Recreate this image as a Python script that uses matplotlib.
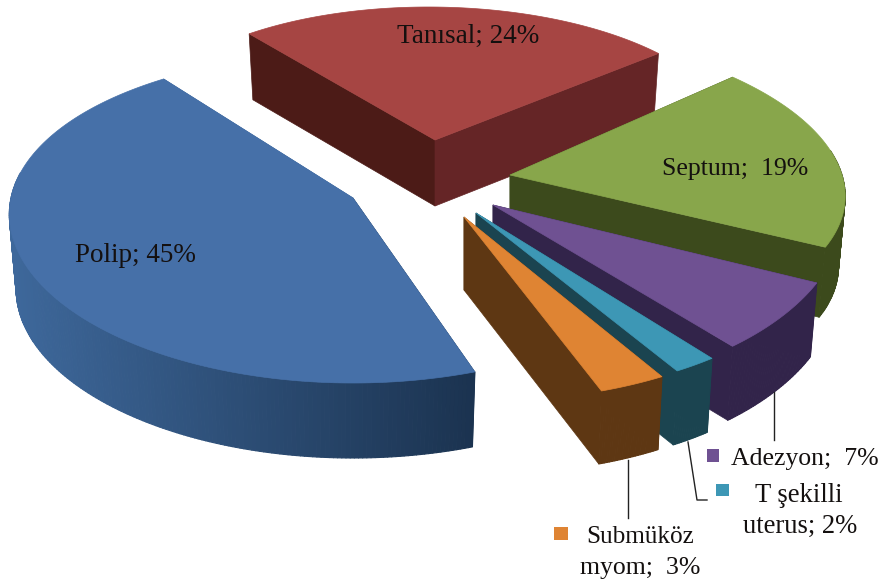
import numpy as np
import matplotlib
matplotlib.use("Agg")
import matplotlib.pyplot as plt
from matplotlib.collections import PolyCollection
from matplotlib.colors import to_rgb
from matplotlib.patches import Polygon, Rectangle

categories = ["Tanısal", "Septum", "Adezyon", "T şekilli uterus", "Submüköz myom", "Polip"]
values = [24, 19, 7, 2, 3, 45]

top_colors = ["#A64543", "#88A64B", "#6F5192", "#3D97B5", "#DF8433", "#4670A8"]
start_face_colors = ["#4C1B17", "#3C4A1C", "#32244A", "#1B4450", "#5E3713", "#1B3350"]
end_face_colors = ["#652526", "#3C4A1C", "#32244A", "#1B4450", "#5E3713", "#3E689B"]
wall_left_colors = ["#652526", "#3C4A1C", "#32244A", "#1B4450", "#5E3713", "#3E689B"]
wall_right_colors = ["#652526", "#3C4A1C", "#32244A", "#1B4450", "#5E3713", "#1B3350"]

# apex x, apex y, rx, ry back, ry front, shear, perspective, depth
geometry = [
    (435, 140, 300, 133, 133, 0.05, 0.0, 66),
    (510, 175, 332, 149, 157, 0.30, 0.0, 70),
    (493, 205, 347, 123, 183, 0.217, 0.0, 74),
    (476, 213, 352, 182, 182, 0.166, 0.0, 74),
    (464, 217, 362, 184, 184, 0.113, 0.0, 73),
    (353, 198, 342, 145, 185, 0.0, 0.10, 75),
]

START_ANGLE = -37  # degres, sens horaire depuis le haut
BASE_SCALE = 0.98


def outer_point(theta, geo, base=False):
    ax_, ay, rx, ry_back, ry_front, shear, persp, depth = geo
    s, c = np.sin(theta), np.cos(theta)
    a = (ry_back + ry_front) / 2
    b = (ry_front - ry_back) / 2
    dy = -a * c + b * c ** 2
    dx = rx * s * (1 - persp * c) + shear * dy
    if base:
        dx = dx * BASE_SCALE
        dy = dy + depth
    return np.column_stack([ax_ + dx, ay + dy])


def draw_slice(ax, a0, a1, geo, top, face0, face1, wall_l, wall_r):
    thetas = np.radians(np.linspace(a0, a1, int(abs(a1 - a0) * 1.5) + 8))
    upper = outer_point(thetas, geo)
    lower = outer_point(thetas, geo, base=True)
    apex = np.array([geo[0], geo[1]])
    apex_base = np.array([geo[0], geo[1] + geo[7]])

    ax.add_patch(Polygon([apex, upper[0], lower[0], apex_base], fc=face0, ec=face0, lw=0.5))
    ax.add_patch(Polygon([apex, upper[-1], lower[-1], apex_base], fc=face1, ec=face1, lw=0.5))

    # seule la partie avant de la paroi est visible
    quads = []
    colors = []
    xmin, xmax = upper[:, 0].min(), upper[:, 0].max()
    c_l, c_r = np.array(to_rgb(wall_l)), np.array(to_rgb(wall_r))
    for i in range(len(thetas) - 1):
        if np.cos(thetas[i]) > 0.15 and np.cos(thetas[i + 1]) > 0.15:
            continue
        quads.append([upper[i], upper[i + 1], lower[i + 1], lower[i]])
        t = (upper[i, 0] - xmin) / (xmax - xmin)
        colors.append(c_l + (c_r - c_l) * t)
    if quads:
        ax.add_collection(PolyCollection(quads, facecolors=colors, edgecolors=colors, linewidths=0.8))

    ax.add_patch(Polygon(np.vstack([apex, upper]), fc=top, ec=top, lw=0.5))


fig = plt.figure(figsize=(8.8, 5.83), dpi=100)
ax = fig.add_axes([0, 0, 1, 1])
ax.set_xlim(0, 880)
ax.set_ylim(583, 0)
ax.axis("off")

edges = START_ANGLE + np.cumsum([0] + values) * 3.6
for i in range(len(values)):
    draw_slice(ax, edges[i], edges[i + 1], geometry[i], top_colors[i],
               start_face_colors[i], end_face_colors[i],
               wall_left_colors[i], wall_right_colors[i])

# lignes de rappel
ax.plot([774, 774], [392, 440], color="#222222", lw=1)
ax.plot([688, 697, 707], [442, 500, 500], color="#222222", lw=1)
ax.plot([628, 628], [460, 518], color="#222222", lw=1)

# carres de legende
ax.add_patch(Rectangle((707, 449), 12, 13, fc=top_colors[2], ec="none"))
ax.add_patch(Rectangle((716, 484), 13, 12, fc=top_colors[3], ec="none"))
ax.add_patch(Rectangle((554, 527), 14, 13, fc=top_colors[4], ec="none"))

font = dict(family="Liberation Serif", ha="center", va="center")
dark = "#14100F"
ax.text(468, 36, "Tanısal; 24%", color=dark, fontsize=19.5, **font)
ax.text(735, 169, "Septum;  19%", color=dark, fontsize=18.5, **font)
ax.text(135, 255, "Polip; 45%", color=dark, fontsize=19.5, **font)
ax.text(805, 459, "Adezyon;  7%", color=dark, fontsize=18.5, **font)
ax.text(799, 496, "T şekilli", color=dark, fontsize=19.2, **font)
ax.text(800, 526, "uterus; 2%", color=dark, fontsize=19.2, **font)
ax.text(640, 537, "Submüköz", color=dark, fontsize=18.2, **font)
ax.text(640, 568, "myom;  3%", color=dark, fontsize=18.5, **font)

fig.savefig("out.png", dpi=100, facecolor="white")
plt.close(fig)
